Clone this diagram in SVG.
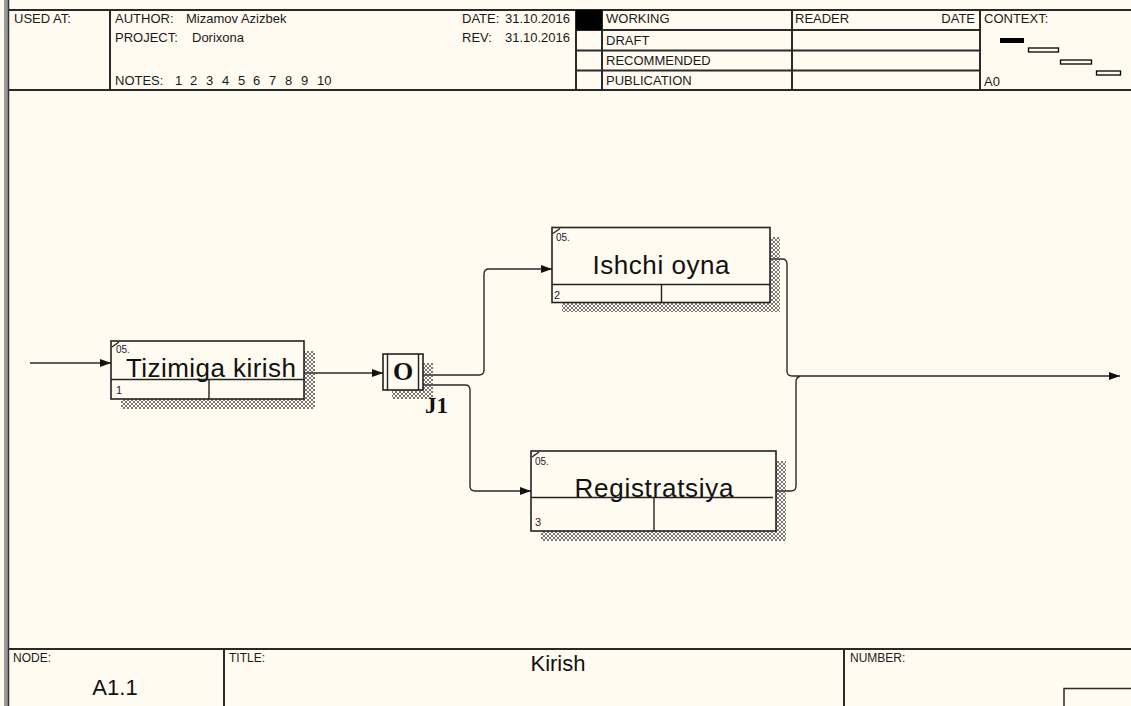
<svg xmlns="http://www.w3.org/2000/svg" width="1131" height="706" viewBox="0 0 1131 706">
  <style>
    .frame { stroke: #2a2a2a; stroke-width: 2; fill: none; }
    .hdr { font-family: "Liberation Sans", Arial, sans-serif; font-size: 13px; fill: #1a1a1a; }
    .ftr { font-family: "Liberation Sans", Arial, sans-serif; font-size: 12px; fill: #1a1a1a; }
    .box { fill: #FFFBF0; stroke: #222; stroke-width: 1.6; }
    .div { stroke: #222; stroke-width: 1.4; fill: none; }
    .lbl { font-family: "Liberation Sans", Arial, sans-serif; font-size: 26px; fill: #111; text-anchor: middle; }
    .small { font-family: "Liberation Sans", Arial, sans-serif; font-size: 10px; fill: #223; }
    .num { font-family: "Liberation Sans", Arial, sans-serif; font-size: 11px; fill: #223; }
    .conn { stroke: #2a2a2a; stroke-width: 1.4; fill: none; }
    .jtxt { font-family: "Liberation Serif", "Times New Roman", serif; font-weight: bold; fill: #111; }
  </style>
  <defs>
    <pattern id="hatch" width="4" height="4" patternUnits="userSpaceOnUse">
      <path d="M0,0 L4,4 M4,0 L0,4" stroke="#555" stroke-width="0.8"/>
    </pattern>
    <marker id="arr" markerWidth="12" markerHeight="9" refX="11" refY="4" orient="auto" markerUnits="userSpaceOnUse">
      <path d="M0,0 L11,4 L0,8 z" fill="#111"/>
    </marker>
  </defs>

  <rect x="0" y="0" width="1131" height="706" fill="#FFFBF0"/>

  <!-- left border -->
  <rect x="4" y="0" width="5" height="706" fill="#9a9a9a"/>
  <line x1="8.5" y1="0" x2="8.5" y2="706" stroke="#333" stroke-width="1.5"/>

  <!-- header -->
  <g id="header">
    <line class="frame" x1="9" y1="10" x2="1131" y2="10"/>
    <line class="frame" x1="9" y1="90" x2="1131" y2="90"/>
    <line class="frame" x1="110" y1="10" x2="110" y2="90"/>
    <line class="frame" x1="576" y1="10" x2="576" y2="90"/>
    <line class="frame" x1="602" y1="10" x2="602" y2="90"/>
    <line class="frame" x1="792" y1="10" x2="792" y2="90"/>
    <line class="frame" x1="980" y1="10" x2="980" y2="90"/>
    <line class="frame" x1="576" y1="30" x2="980" y2="30"/>
    <line class="frame" x1="576" y1="50.5" x2="980" y2="50.5"/>
    <line class="frame" x1="576" y1="70.5" x2="980" y2="70.5"/>
    <rect x="576" y="10" width="26" height="20" fill="#000"/>

    <text class="hdr" x="14" y="23">USED AT:</text>
    <text class="hdr" x="115" y="23">AUTHOR:<tspan x="186">Mizamov Azizbek</tspan></text>
    <text class="hdr" x="115" y="42">PROJECT:<tspan x="192">Dorixona</tspan></text>
    <text class="hdr" x="115" y="85">NOTES:<tspan x="175">1</tspan><tspan x="190">2</tspan><tspan x="206">3</tspan><tspan x="222">4</tspan><tspan x="238">5</tspan><tspan x="253">6</tspan><tspan x="269">7</tspan><tspan x="285">8</tspan><tspan x="301">9</tspan><tspan x="317">10</tspan></text>
    <text class="hdr" x="462" y="23">DATE:</text>
    <text class="hdr" x="570" y="23" text-anchor="end">31.10.2016</text>
    <text class="hdr" x="462" y="42">REV:</text>
    <text class="hdr" x="570" y="42" text-anchor="end">31.10.2016</text>

    <text class="hdr" x="606" y="23">WORKING</text>
    <text class="hdr" x="606" y="45">DRAFT</text>
    <text class="hdr" x="606" y="65">RECOMMENDED</text>
    <text class="hdr" x="606" y="85">PUBLICATION</text>
    <text class="hdr" x="795" y="23">READER</text>
    <text class="hdr" x="975" y="23" text-anchor="end">DATE</text>
    <text class="hdr" x="984" y="23">CONTEXT:</text>
    <text class="hdr" x="984" y="86">A0</text>

    <rect x="1000" y="38" width="24" height="5" fill="#000"/>
    <rect x="1028.5" y="48" width="30" height="4" fill="none" stroke="#000" stroke-width="1.3"/>
    <rect x="1060.5" y="60" width="31" height="4" fill="none" stroke="#000" stroke-width="1.3"/>
    <rect x="1096.5" y="71" width="24" height="4" fill="none" stroke="#000" stroke-width="1.3"/>
  </g>

  <!-- footer -->
  <g id="footer">
    <line class="frame" x1="9" y1="649" x2="1131" y2="649"/>
    <line class="frame" x1="224" y1="649" x2="224" y2="706"/>
    <line class="frame" x1="844" y1="649" x2="844" y2="706"/>
    <rect x="1064" y="688.5" width="70" height="20" fill="none" stroke="#2a2a2a" stroke-width="1.5"/>
    <text class="ftr" x="13" y="662">NODE:</text>
    <text class="ftr" x="229" y="662">TITLE:</text>
    <text class="ftr" x="850" y="662">NUMBER:</text>
    <text x="558" y="671" font-family="Liberation Sans, Arial, sans-serif" font-size="22" fill="#111" text-anchor="middle">Kirish</text>
    <text x="115" y="695" font-family="Liberation Sans, Arial, sans-serif" font-size="22" fill="#111" text-anchor="middle">A1.1</text>
  </g>

  <!-- connectors -->
  <g id="connectors">
    <path class="conn" d="M30,363 H111" marker-end="url(#arr)"/>
    <path class="conn" d="M304,373 H383" marker-end="url(#arr)"/>
    <path class="conn" d="M423,375 H479 Q484,375 484,370 V274 Q484,269 489,269 H552" marker-end="url(#arr)"/>
    <path class="conn" d="M423,385 H465 Q470,385 470,390 V486 Q470,491 475,491 H531" marker-end="url(#arr)"/>
    <path class="conn" d="M770,259 H782 Q787,259 787,264 V371 Q787,376 792,376 H1120" marker-end="url(#arr)"/>
    <path class="conn" d="M776,491 H791 Q796,491 796,486 V382 Q796,377 800,376.5"/>
  </g>

  <!-- node 1 -->
  <g id="node-tizimiga-kirish">
    <rect x="121" y="351" width="194" height="58" fill="url(#hatch)"/>
    <rect class="box" x="111" y="341" width="193" height="58"/>
    <line class="div" x1="111" y1="379.5" x2="304" y2="379.5"/>
    <line class="div" x1="209" y1="379.5" x2="209" y2="399"/>
    <line class="div" x1="112" y1="347" x2="119" y2="342"/>
    <text class="small" x="116" y="353">05.</text>
    <text class="lbl" x="211" y="377" font-size="24.5" textLength="170" lengthAdjust="spacing">Tizimiga kirish</text>
    <text class="num" x="116" y="394">1</text>
  </g>

  <!-- junction J1 -->
  <g id="junction-j1">
    <rect x="392" y="363" width="41" height="36" fill="url(#hatch)"/>
    <rect class="box" x="383" y="354" width="40" height="36"/>
    <line class="div" x1="387.5" y1="354" x2="387.5" y2="390"/>
    <line class="div" x1="418.5" y1="354" x2="418.5" y2="390"/>
    <text class="jtxt" x="403" y="380" font-size="26" text-anchor="middle">O</text>
    <text class="jtxt" x="425" y="412.5" font-size="23">J1</text>
  </g>

  <!-- node 2 -->
  <g id="node-ishchi-oyna">
    <rect x="562" y="237" width="218" height="75" fill="url(#hatch)"/>
    <rect class="box" x="552" y="227.5" width="218" height="75"/>
    <line class="div" x1="552" y1="284.5" x2="770" y2="284.5"/>
    <line class="div" x1="661.5" y1="284.5" x2="661.5" y2="302.5"/>
    <line class="div" x1="553" y1="233.5" x2="560" y2="228.5"/>
    <text class="small" x="556" y="241">05.</text>
    <text class="lbl" x="661" y="273.5" textLength="137" lengthAdjust="spacing">Ishchi oyna</text>
    <text class="num" x="554" y="299">2</text>
  </g>

  <!-- node 3 -->
  <g id="node-registratsiya">
    <rect x="541" y="461" width="245" height="80" fill="url(#hatch)"/>
    <rect class="box" x="531" y="451" width="245" height="80"/>
    <text class="lbl" x="654" y="497" textLength="159" lengthAdjust="spacing">Registratsiya</text>
    <line class="div" x1="531" y1="497.5" x2="773" y2="497.5"/>
    <line class="div" x1="654" y1="497.5" x2="654" y2="531"/>
    <line class="div" x1="532" y1="457" x2="539" y2="452"/>
    <text class="small" x="535" y="465">05.</text>
    <text class="num" x="535" y="526">3</text>
  </g>
</svg>
